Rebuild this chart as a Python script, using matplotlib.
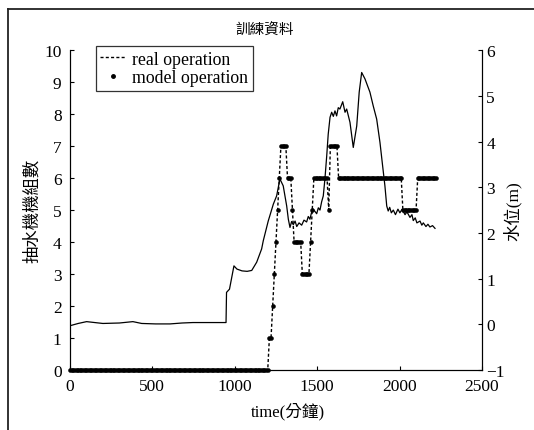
import numpy as np
import matplotlib
matplotlib.use("Agg")
import matplotlib.pyplot as plt
from matplotlib.lines import Line2D

plt.rcParams['font.family'] = ['Liberation Serif', 'Noto Sans CJK TC', 'DejaVu Sans']

# ---- data ----
sample_step = 10  # minutes between samples
pump_levels = [0, 1, 2, 3, 4, 5, 6, 7, 6, 5, 4, 3, 4, 5, 6, 5, 7, 6, 5, 6]
pump_counts = [121, 2, 1, 1, 1, 1, 1, 4, 3, 1, 5, 5, 1, 1, 9, 1, 5, 39, 9, 12]

water_time = [0, 50, 101, 150, 200, 300, 382, 435, 520, 607, 680, 746, 850, 947,
              950, 968, 995, 1013, 1044, 1075, 1103, 1133, 1163, 1173, 1203, 1234,
              1254, 1274, 1294, 1315, 1325, 1335, 1345, 1355, 1366, 1376, 1390, 1406,
              1420, 1436, 1446, 1456, 1466, 1476, 1497, 1507, 1517, 1527, 1537, 1547,
              1558, 1567, 1578, 1588, 1598, 1608, 1618, 1628, 1638, 1655, 1669, 1679,
              1699, 1719, 1740, 1755, 1770, 1790, 1820, 1840, 1861, 1881, 1897, 1911,
              1922, 1931, 1940, 1950, 1962, 1975, 1990, 2002, 2015, 2033, 2045, 2063,
              2075, 2083, 2095, 2105, 2124, 2135, 2144, 2160, 2172, 2184, 2200, 2215]
water_level = [-0.03, 0.02, 0.06, 0.04, 0.02, 0.03, 0.06, 0.02, 0.01, 0.01, 0.03, 0.04, 0.04, 0.04,
               0.70, 0.77, 1.28, 1.21, 1.17, 1.16, 1.18, 1.36, 1.65, 1.83, 2.26, 2.63,
               2.81, 3.18, 3.03, 2.59, 2.30, 2.12, 2.25, 2.18, 2.26, 2.14, 2.22, 2.17,
               2.28, 2.24, 2.36, 2.30, 2.45, 2.52, 2.42, 2.55, 2.50, 2.68, 2.81, 3.18,
               3.69, 4.16, 4.53, 4.64, 4.55, 4.67, 4.56, 4.74, 4.71, 4.87, 4.64, 4.71,
               4.42, 3.87, 4.34, 5.08, 5.51, 5.37, 5.08, 4.78, 4.49, 3.98, 3.47, 3.03,
               2.59, 2.48, 2.56, 2.44, 2.50, 2.40, 2.52, 2.44, 2.52, 2.40, 2.46, 2.34,
               2.40, 2.27, 2.33, 2.22, 2.26, 2.17, 2.22, 2.14, 2.19, 2.13, 2.16, 2.10]

x_ticks = [0, 500, 1000, 1500, 2000, 2500]
left_ticks = list(range(0, 11))
right_ticks = list(range(-1, 7))

# ---- figure ----
fig = plt.figure(figsize=(5.34, 4.31), dpi=100)
ax = fig.add_axes([0.131, 0.139, 0.7716, 0.7425])
ax2 = ax.twinx()

pumps = np.repeat(pump_levels, pump_counts)
t = np.arange(len(pumps)) * sample_step

ax2.plot(water_time, water_level, color='black', lw=0.9)
ax.plot(t, pumps, color='black', lw=1.0, ls=(0, (2.2, 1.6)))
ax.plot(t, pumps, color='black', ls='none', marker='o', ms=2.8, mew=0.4,
        clip_on=False, zorder=5)

ax.set_xlim(0, 2500)
ax.set_ylim(0, 10)
ax2.set_ylim(-1, 6)
ax.set_xticks(x_ticks)
ax.set_yticks(left_ticks)
ax2.set_yticks(right_ticks)

for a in (ax, ax2):
    a.spines['top'].set_visible(False)
    a.tick_params(direction='in', length=3, width=0.8, labelsize=12.5)
ax.tick_params(axis='y', pad=6)
ax2.tick_params(axis='y', pad=3)
ax.tick_params(axis='x', pad=6)

ax.set_xlabel('time(分鐘)', fontsize=12)
ax.xaxis.set_label_coords(0.529, -0.10)
ax.set_ylabel('抽水機機組數', fontsize=12.5, labelpad=2)
ax2.set_ylabel('水位(m)', fontsize=12.5, labelpad=-1)

fig.text(0.496, 0.928, '訓練資料', ha='center', va='center', fontsize=10.5)

handles = [Line2D([], [], color='black', lw=1.0, ls=(0, (2.2, 1.6))),
           Line2D([], [], color='black', ls='none', marker='o', ms=2.5)]
leg = ax.legend(handles, ['real operation', 'model operation'], loc='upper left',
                bbox_to_anchor=(0.063, 1.012), fontsize=12.8, frameon=True, fancybox=False,
                handlelength=1.4, handletextpad=0.4, borderpad=0.25, labelspacing=0.1,
                borderaxespad=0)
leg.get_frame().set_edgecolor('black')
leg.get_frame().set_linewidth(0.9)

# figure frame (left and top edges)
fig.add_artist(Line2D([8/534, 8/534], [0, 1 - 10/431], color='#222222', lw=1.3))
fig.add_artist(Line2D([8/534, 1], [1 - 10/431, 1 - 10/431], color='#222222', lw=1.3))

fig.savefig('out.png', dpi=100)
